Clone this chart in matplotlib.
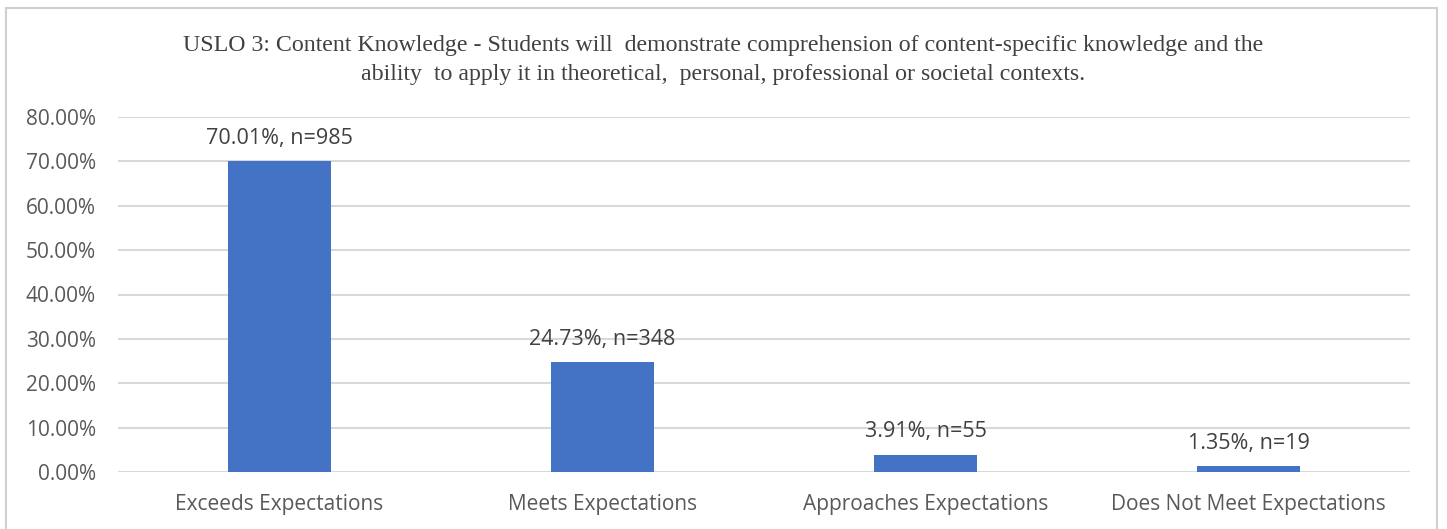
import matplotlib.pyplot as plt
from matplotlib.patches import Rectangle
from matplotlib.ticker import FuncFormatter

categories = ["Exceeds Expectations", "Meets Expectations",
              "Approaches Expectations", "Does Not Meet Expectations"]
percents = [70.01, 24.73, 3.91, 1.35]
counts = [985, 348, 55, 19]

title = ("USLO 3: Content Knowledge - Students will  demonstrate comprehension of content-specific knowledge and the\n"
         "ability  to apply it in theoretical,  personal, professional or societal contexts.")

gray = "#595959"
fig = plt.figure(figsize=(14.47, 5.29), dpi=100)
ax = fig.add_axes([118 / 1447, 1 - 472 / 529, 1292 / 1447, 355 / 529])

# outer chart border
fig.patches.append(Rectangle((6 / 1447, -0.05), 1431 / 1447, 1.05 - 8 / 529,
                             transform=fig.transFigure, fill=False,
                             edgecolor="#d0d0d0", linewidth=1.5))

x = range(len(categories))
bars = ax.bar(x, percents, width=0.316, color="#4472C4", zorder=3)
for b, p, n in zip(bars, percents, counts):
    ax.annotate(f"{p:.2f}%, n={n}", (b.get_x() + b.get_width() / 2, p),
                xytext=(0, 9), textcoords="offset points", ha="center", va="bottom",
                fontsize=15.5, color="#404040", family="Open Sans")

ax.set_xlim(-0.5, 3.5)
ax.set_ylim(0, 80)
ax.set_yticks(range(0, 81, 10))
ax.yaxis.set_major_formatter(FuncFormatter(lambda v, _: f"{v:.2f}%"))
ax.set_xticks(list(x))
ax.set_xticklabels(categories)
ax.grid(axis="y", color="#d9d9d9", linewidth=1.5, zorder=0)
for s in ax.spines.values():
    s.set_visible(False)
ax.tick_params(length=0, labelsize=15, labelcolor=gray)
for lbl in ax.get_xticklabels() + ax.get_yticklabels():
    lbl.set_family("Open Sans")
ax.tick_params(axis="x", pad=16)
ax.tick_params(axis="y", pad=16)

fig.text(0.5, 1 - 60 / 529, title, ha="center", va="center", fontsize=17.2,
         family="Liberation Serif", color="#404040", linespacing=1.45)

fig.savefig("out.png", dpi=100)
